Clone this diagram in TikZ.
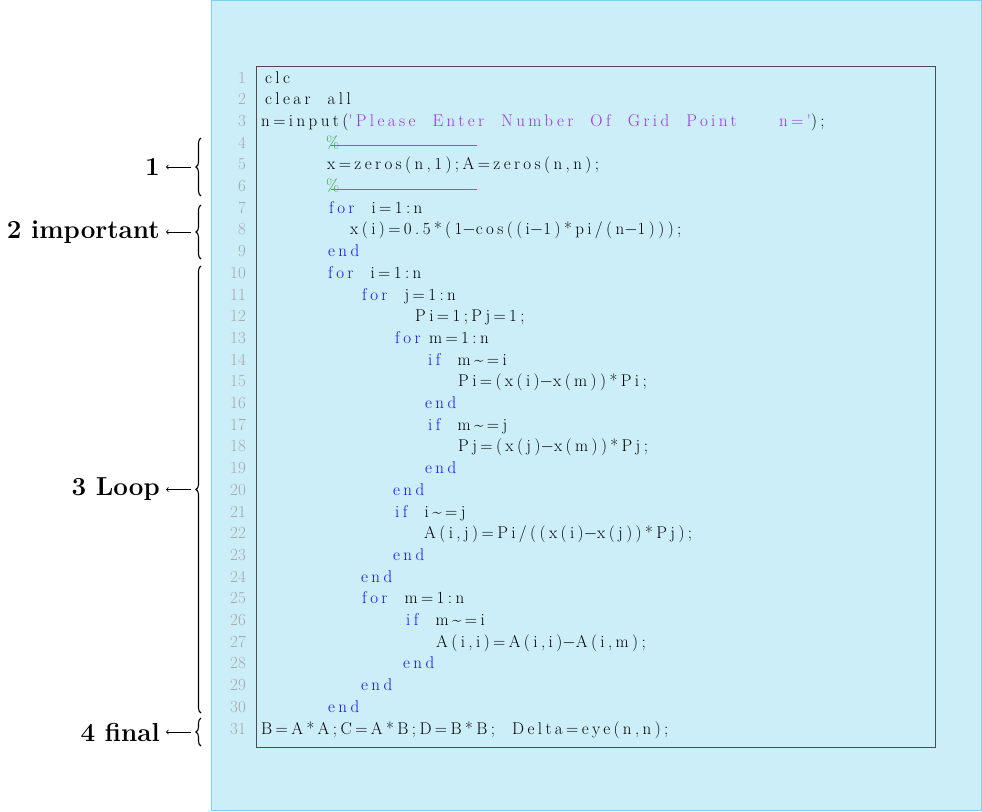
\documentclass[tikz,border=0pt]{standalone}
\usepackage{fontspec}
\newfontfamily\codefont{Latin Modern Roman}[LetterSpace=20]
\usetikzlibrary{decorations.pathreplacing}
\definecolor{bg}{HTML}{CBEEF9}
\definecolor{bd}{HTML}{7FD0EE}
\definecolor{kw}{HTML}{1010FF}
\definecolor{st}{HTML}{A030E8}
\definecolor{cm}{HTML}{3CA03C}
\definecolor{ln}{HTML}{A8A8A8}
\newcommand{\kw}[1]{\textcolor{kw}{#1}}
\newcommand{\cmline}{\textcolor{cm}{\%\hspace{-0.5em}\rule[0.3ex]{146pt}{0.6pt}}}
\begin{document}
\begin{tikzpicture}[x=1pt,y=-1pt,
  code/.style={anchor=base west,inner sep=0pt,font=\codefont\fontsize{17}{20}\selectfont},
  num/.style={anchor=base east,inner sep=0pt,text=ln,font=\fontsize{17}{20}\selectfont},
  lab/.style={anchor=east,inner sep=0pt,font=\fontsize{26}{30}\selectfont\bfseries},
  br/.style={decorate,decoration={brace,amplitude=5pt},line width=1.1pt}]
\useasboundingbox (0,0) rectangle (982,811);
\draw[bd,fill=bg] (211.5,0.5) rectangle (981.5,810.5);
\draw[black!70] (256,66) rectangle (935,747);
\foreach \i/\x/\t in {
1/265/{clc},
2/265/{clear\ \ all},
3/261/{n=input(\textcolor{st}{'Please\ \ Enter\ \ Number\ \ Of\ \ Grid\ \ Point\qquad\ n='});},
4/326/{\cmline},
5/327/{x=zeros(n,1);A=zeros(n,n);},
6/326/{\cmline},
7/329/{\kw{for}\ \ i=1:n},
8/350/{x(i)=0.5*(1$-$cos((i$-$1)*pi/(n$-$1)));},
9/328/{\kw{end}},
10/328/{\kw{for}\ \ i=1:n},
11/362/{\kw{for}\ \ j=1:n},
12/415/{Pi=1;Pj=1;},
13/395/{\kw{for}\ m=1:n},
14/428/{\kw{if}\ \ m\~{}=i},
15/458/{Pi=(x(i)$-$x(m))*Pi;},
16/425/{\kw{end}},
17/428/{\kw{if}\ \ m\~{}=j},
18/458/{Pj=(x(j)$-$x(m))*Pj;},
19/425/{\kw{end}},
20/393/{\kw{end}},
21/395/{\kw{if}\ \ i\~{}=j},
22/424/{A(i,j)=Pi/((x(i)$-$x(j))*Pj);},
23/393/{\kw{end}},
24/361/{\kw{end}},
25/362/{\kw{for}\ \ m=1:n},
26/406/{\kw{if}\ \ m\~{}=i},
27/436/{A(i,i)=A(i,i)$-$A(i,m);},
28/403/{\kw{end}},
29/361/{\kw{end}},
30/328/{\kw{end}},
31/261/{B=A*A;C=A*B;D=B*B;\ \ Delta=eye(n,n);}}{
  \node[num] (n\i) at (246,{83+(\i-1)*21.7}) {\i};
  \node[code] (c\i) at (\x,{83+(\i-1)*21.7}) {\t};
}
\foreach \k/\a/\b/\t in {1/138/196/1, 2/205/259/2 important, 3/266/713/3 Loop, 4/718/746/4 final}{
  \coordinate (ba\k) at (201,\b);
  \coordinate (bb\k) at (201,\a);
  \draw[br] (ba\k) -- (bb\k);
  \coordinate (m\k) at (191,{(\a+\b)/2});
  \node[lab] (l\k) at (160,{(\a+\b)/2}) {\t};
  \draw[->,line width=0.8pt,shorten >=6pt] (m\k) -- (l\k.east);
}
\end{tikzpicture}
\end{document}
